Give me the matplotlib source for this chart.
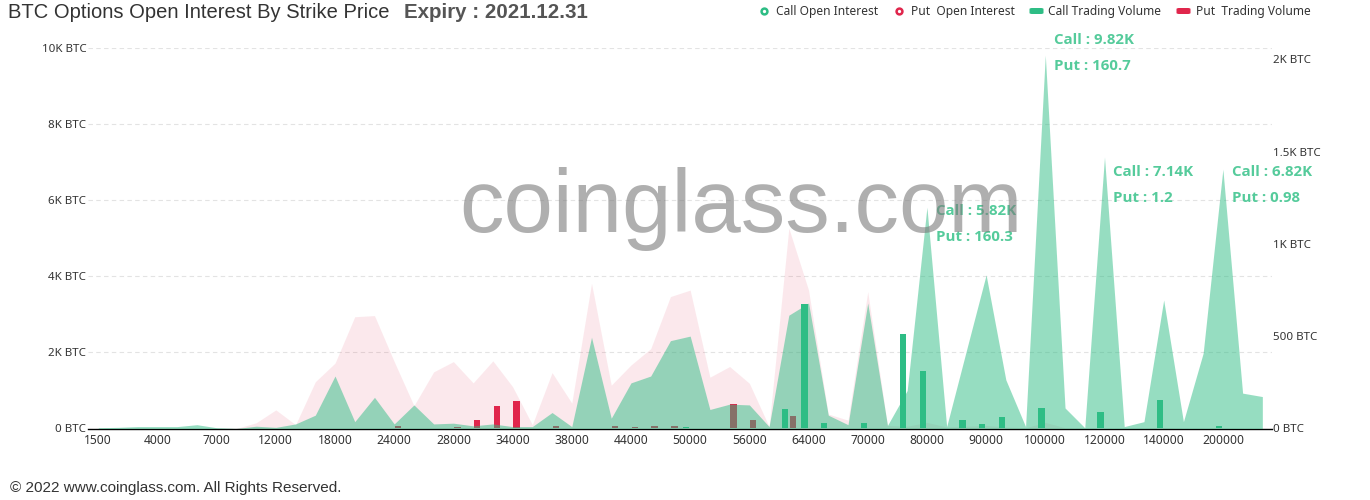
import matplotlib
matplotlib.use('Agg')
import matplotlib.pyplot as plt
from matplotlib.patches import FancyBboxPatch
from matplotlib.lines import Line2D
import numpy as np

# ---------------- data ----------------
strikes = ['1500', '2000', '3000', '4000', '5000', '6000', '7000', '8000', '10000', '12000',
           '14000', '16000', '18000', '20000', '22000', '24000', '25000', '26000', '28000', '30000',
           '32000', '34000', '35000', '36000', '38000', '40000', '42000', '44000', '46000', '48000',
           '50000', '52000', '54000', '56000', '60000', '62000', '64000', '66000', '68000', '70000',
           '72000', '75000', '80000', '85000', '88000', '90000', '95000', '98000', '100000', '110000',
           '115000', '120000', '130000', '135000', '140000', '150000', '180000', '200000', '250000', '300000']

call_oi = [20, 30, 50, 50, 50, 100, 20, 0, 60, 30,
           120, 350, 1380, 180, 820, 120, 620, 120, 140, 70,
           120, 50, 50, 420, 50, 2400, 270, 1200, 1380, 2310,
           2430, 500, 640, 620, 50, 2980, 3300, 350, 100, 3300,
           80, 1000, 5820, 50, 2050, 4040, 1280, 50, 9820, 540,
           20, 7140, 50, 180, 3380, 180, 1980, 6820, 930, 840]

put_oi = [0, 0, 0, 0, 0, 0, 0, 0, 150, 490,
          100, 1230, 1720, 2940, 2970, 1760, 600, 1490, 1760, 1200,
          1780, 1100, 100, 1470, 670, 3820, 1140, 1670, 2100, 3470,
          3640, 1350, 1630, 1190, 50, 5270, 3640, 380, 220, 3600,
          80, 60, 160.3, 40, 60, 80, 40, 20, 160.7, 20,
          10, 1.2, 5, 5, 20, 5, 5, 0.98, 2, 2]

call_vol = [0, 0, 0, 0, 0, 0, 0, 0, 0, 0,
            0, 0, 0, 0, 0, 0, 0, 0, 0, 0,
            0, 0, 0, 0, 0, 0, 0, 0, 0, 0,
            8, 0, 0, 0, 0, 105, 677, 31, 4, 31,
            0, 511, 311, 0, 46, 24, 64, 0, 113, 4,
            0, 90, 0, 0, 152, 0, 0, 14, 0, 0]

put_vol = [0, 0, 0, 0, 0, 0, 0, 0, 0, 0,
           0, 0, 2, 1, 0, 14, 5, 3, 8, 44,
           124, 149, 0, 14, 0, 3, 14, 8, 16, 12,
           5, 3, 131, 46, 0, 68, 4, 0, 0, 0,
           0, 0, 0, 0, 0, 0, 0, 0, 0, 0,
           0, 0, 0, 0, 0, 0, 0, 0, 0, 0]

left_ticks = [0, 2000, 4000, 6000, 8000, 10000]
left_tick_labels = ['0 BTC', '2K BTC', '4K BTC', '6K BTC', '8K BTC', '10K BTC']
right_ticks = [0, 500, 1000, 1500, 2000]
right_tick_labels = ['0 BTC', '500 BTC', '1K BTC', '1.5K BTC', '2K BTC']

peak_strikes = ['80000', '100000', '120000', '200000']
peak_call_text = ['5.82K', '9.82K', '7.14K', '6.82K']
peak_put_text = ['160.3', '160.7', '1.2', '0.98']
peak_label_y = [5720, 10220, 6750, 6750]   # vertical position of the "Call" line (left-axis units)

# ---------------- style ----------------
GREEN = '#2ebd85'
RED = '#e0264c'
LABEL_GREEN = '#55cb9b'
TXT = '#333333'

fig = plt.figure(figsize=(13.7, 5.0), dpi=100)
W, H = 1370.0, 500.0
x0, x1, yb, yt = 88.4, 1272.2, 428.5, 48.3
rect = [x0 / W, 1 - yb / H, (x1 - x0) / W, (yb - yt) / H]

ax = fig.add_axes(rect)            # put OI area + left axis
ax2 = ax.twinx()                   # volume bars + right axis
ax3 = ax.twinx()                   # call OI area on top, left scale

x = np.arange(len(strikes))

ax.fill_between(x, put_oi, 0, color=RED, alpha=0.1, lw=0)
ax2.bar(x - 0.2, call_vol, width=0.32, color=GREEN, lw=0)
ax2.bar(x + 0.2, put_vol, width=0.32, color=RED, lw=0)
ax3.fill_between(x, call_oi, 0, color=GREEN, alpha=0.5, lw=0)

for a in (ax, ax2, ax3):
    a.set_xlim(-0.5, len(strikes) - 0.5)
    for s in a.spines.values():
        s.set_visible(False)
ax.set_ylim(0, 10000)
ax3.set_ylim(0, 10000)
ax2.set_ylim(0, 2060)

ax3.set_yticks([])

ax.spines['bottom'].set_visible(True)
ax.spines['bottom'].set_color('#000000')
ax.spines['bottom'].set_linewidth(1.0)
ax.spines['bottom'].set_zorder(10)

ax.set_yticks(left_ticks)
ax.set_yticklabels(left_tick_labels)
ax.tick_params(axis='y', length=0, pad=1.5, labelsize=8.3, labelcolor=TXT)
for t in ax.get_yticklabels():
    t.set_fontfamily('Noto Sans')
ax.grid(axis='y', color='#e3e3e3', linestyle=(0, (4, 3)), linewidth=0.8)
ax.set_axisbelow(True)

ax.set_xticks(x[::3])
ax.set_xticklabels(strikes[::3])
ax.tick_params(axis='x', length=0, pad=4, labelsize=8.7, labelcolor=TXT)
for t in ax.get_xticklabels():
    t.set_fontfamily('Noto Sans')

ax2.set_yticks(right_ticks)
ax2.set_yticklabels(right_tick_labels)
ax2.tick_params(axis='y', length=0, pad=0.5, labelsize=8.3, labelcolor=TXT)
for t in ax2.get_yticklabels():
    t.set_fontfamily('Noto Sans')

# peak annotations
for s, ct, pt, ly in zip(peak_strikes, peak_call_text, peak_put_text, peak_label_y):
    i = strikes.index(s)
    ax3.annotate('Call : ' + ct, xy=(i, ly), xytext=(9, 0), textcoords='offset pixels',
                 ha='left', va='center', fontsize=10.8, fontweight='bold', color=LABEL_GREEN,
                 family='Open Sans', annotation_clip=False, zorder=20)
    ax3.annotate('Put : ' + pt, xy=(i, ly), xytext=(9, -26), textcoords='offset pixels',
                 ha='left', va='center', fontsize=10.8, fontweight='bold', color=LABEL_GREEN,
                 family='Open Sans', annotation_clip=False, zorder=20)

# watermark
fig.text(741 / W, 1 - 232 / H, 'coinglass.com', ha='center', va='baseline',
         fontsize=64, family='Liberation Sans', color='#7a7a7a', alpha=0.6, zorder=30)

# title
fig.text(8 / W, 1 - 12 / H, 'BTC Options Open Interest By Strike Price', ha='left', va='center',
         fontsize=14.5, family='Liberation Sans', color=TXT)
fig.text(404 / W, 1 - 12 / H, 'Expiry : 2021.12.31', ha='left', va='center',
         fontsize=14.8, family='Liberation Sans', fontweight='bold', color='#555555')

# legend (manual)
leg_y = 1 - 11 / H
items = [('circle', GREEN, 763.5, 776, 'Call Open Interest'),
         ('circle', RED, 898.7, 911, 'Put  Open Interest'),
         ('rect', GREEN, 1036.5, 1048.5, 'Call Trading Volume'),
         ('rect', RED, 1183.5, 1196.5, 'Put  Trading Volume')]
for kind, col, mx, tx, label in items:
    if kind == 'circle':
        fig.add_artist(Line2D([mx / W], [leg_y], marker='o', markersize=4.2, markerfacecolor='white',
                              markeredgecolor=col, markeredgewidth=1.8, linestyle='none',
                              transform=fig.transFigure))
    else:
        fig.add_artist(FancyBboxPatch(((mx - 7) / W, leg_y - 3 / H), 14 / W, 6 / H,
                                      boxstyle='round,pad=0,rounding_size=0.002',
                                      transform=fig.transFigure, color=col, lw=0))
    fig.text(tx / W, leg_y, label, ha='left', va='center', fontsize=8.6,
             family='Noto Sans', color=TXT)

# footer
fig.text(10 / W, 1 - 488 / H, '\u00a9 2022 www.coinglass.com. All Rights Reserved.', ha='left',
         va='center', fontsize=11, family='Liberation Sans', color=TXT)

fig.savefig('out.png', dpi=100)
